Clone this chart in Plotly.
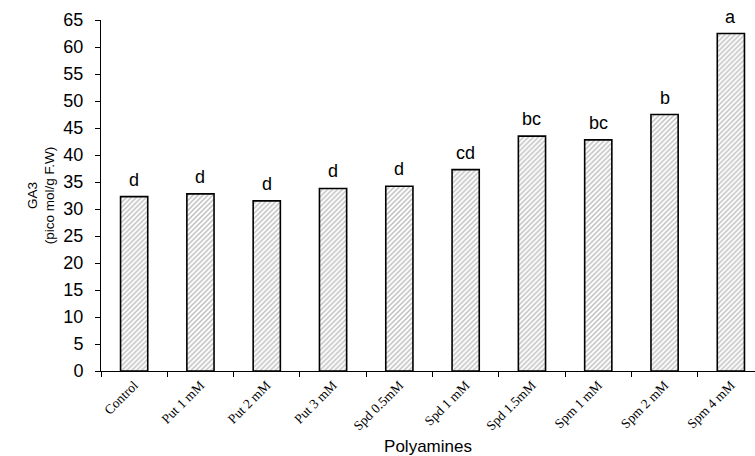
import plotly.graph_objects as go

categories = ["Control", "Put 1 mM", "Put 2 mM", "Put 3 mM", "Spd 0.5mM",
              "Spd 1 mM", "Spd 1.5mM", "Spm 1 mM", "Spm 2 mM", "Spm 4 mM"]
ga3_values = [32.3, 32.8, 31.5, 33.8, 34.2, 37.3, 43.5, 42.8, 47.5, 62.5]
letters = ["d", "d", "d", "d", "d", "cd", "bc", "bc", "b", "a"]
y_ticks = list(range(0, 70, 5))

fig = go.Figure()
fig.add_trace(go.Bar(
    x=categories, y=ga3_values, width=0.41,
    marker=dict(color="white",
                line=dict(color="black", width=1.6),
                pattern=dict(shape="/", fgcolor="#7a7a7a", bgcolor="white",
                             size=3.5, solidity=0.4)),
    showlegend=False, hoverinfo="skip",
))

for c, v, t in zip(categories, ga3_values, letters):
    fig.add_annotation(x=c, y=v, text=t, showarrow=False, yanchor="bottom",
                       yshift=5, font=dict(family="Arial", size=18, color="black"))

fig.update_layout(
    width=755, height=456,
    margin=dict(l=101, r=0, t=20, b=85),
    plot_bgcolor="white", paper_bgcolor="white",
    bargap=0.59,
)
fig.update_xaxes(
    range=[-0.5, 9.364], type="category", automargin=False,
    showline=True, linecolor="black", linewidth=1,
    ticks="outside", tickson="boundaries", ticklen=5, tickcolor="black",
    tickangle=-45,
    tickfont=dict(family="Liberation Serif", size=13.5, color="black"),
    title=dict(text="Polyamines", font=dict(family="Arial", size=17, color="black"),
               standoff=10),
    showgrid=False,
)
fig.update_yaxes(
    range=[0, 65], tickvals=y_ticks, automargin=False,
    showline=True, linecolor="black", linewidth=1,
    ticks="outside", ticklen=5, tickcolor="black", ticklabelstandoff=8,
    tickfont=dict(family="Arial", size=18, color="black"),
    title=dict(text="GA3<br>(pico mol/g F.W)",
               font=dict(family="Arial", size=13.5, color="black"), standoff=5),
    showgrid=False, zeroline=False,
)

fig.write_html("out.html", config={"displayModeBar": False},
               post_script="document.body.style.margin='0';document.body.style.overflow='hidden';")
